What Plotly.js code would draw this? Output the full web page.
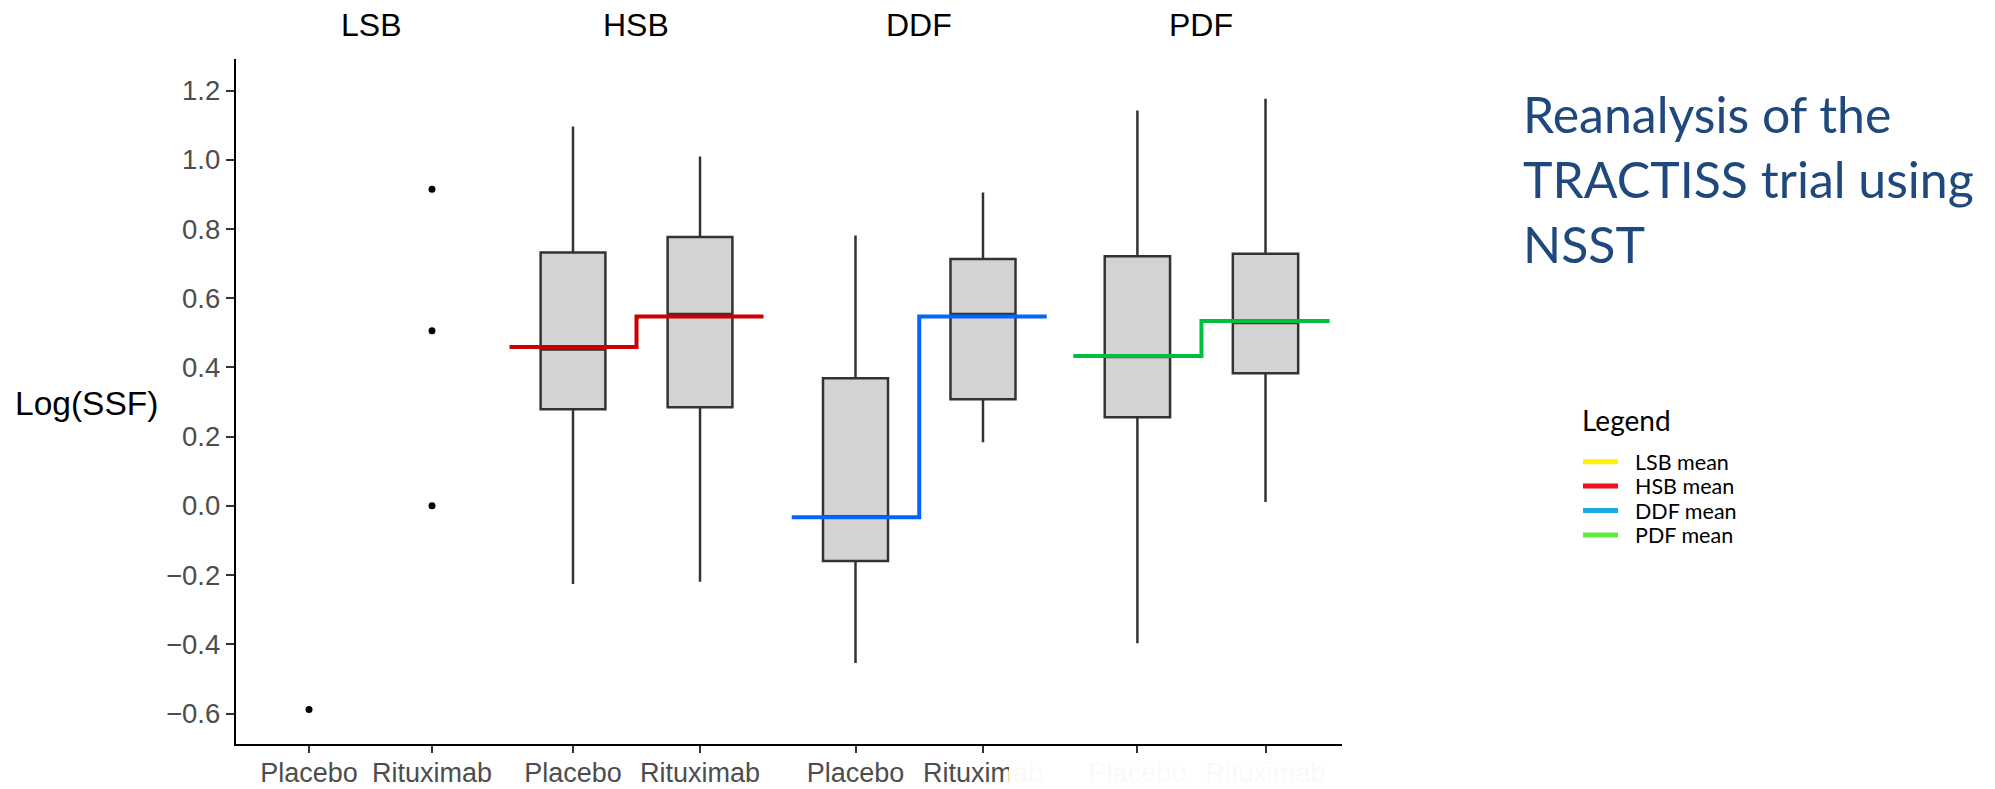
<!DOCTYPE html>
<html>
<head>
<meta charset="utf-8">
<script src="https://cdn.plot.ly/plotly-3.0.1.min.js"></script>
<style>
html,body{margin:0;padding:0;background:#fff;}
#chart{width:1995px;height:789px;}
</style>
</head>
<body>
<div id="chart"></div>
<script>
// ---------- data ----------
const groups = ['LSB', 'HSB', 'DDF', 'PDF'];
const arms = ['Placebo', 'Rituximab'];

// LSB: individual observations only
const lsbPlacebo = [-0.588];
const lsbRituximab = [0.915, 0.506, 0.0];

// Box statistics, [Placebo, Rituximab]
const hsbLower = [-0.226, -0.219];
const hsbQ1 = [0.279, 0.285];
const hsbMedian = [0.452, 0.554];
const hsbQ3 = [0.732, 0.777];
const hsbUpper = [1.096, 1.009];
const hsbMean = [0.459, 0.547];

const ddfLower = [-0.454, 0.184];
const ddfQ1 = [-0.159, 0.308];
const ddfMedian = [-0.030, 0.554];
const ddfQ3 = [0.369, 0.713];
const ddfUpper = [0.781, 0.905];
const ddfMean = [-0.033, 0.547];

const pdfLower = [-0.397, 0.011];
const pdfQ1 = [0.256, 0.383];
const pdfMedian = [0.430, 0.528];
const pdfQ3 = [0.721, 0.728];
const pdfUpper = [1.142, 1.176];
const pdfMean = [0.433, 0.534];

const yTicks = [-0.6, -0.4, -0.2, 0.0, 0.2, 0.4, 0.6, 0.8, 1.0, 1.2];
const legendLabels = ['LSB mean', 'HSB mean', 'DDF mean', 'PDF mean'];
const legendColors = ['#fff200', '#f0101e', '#1ea8e6', '#62eb3c'];
const meanColors = {HSB: '#cc0000', DDF: '#0066ff', PDF: '#00bf3f'};
const titleLines = ['Reanalysis of the', 'TRACTISS trial using', 'NSST'];

// ---------- styling / layout constants ----------
const FONT = 'Liberation Sans, Arial, Helvetica, sans-serif';
const SIDEFONT = 'Lato, Carlito, Calibri, sans-serif';
const armIdx = arms.map((a, i) => i);
const boxWidth = 0.51;
const half = 0.5;

const traces = [];

// LSB points
traces.push({
  type: 'scatter', mode: 'markers', xaxis: 'x', yaxis: 'y',
  x: lsbPlacebo.map(() => armIdx[0]).concat(lsbRituximab.map(() => armIdx[1])),
  y: lsbPlacebo.concat(lsbRituximab),
  marker: {color: '#000000', size: 7},
  showlegend: false, hoverinfo: 'y'
});

const boxGroups = [
  {name: 'HSB', ax: 'x2', lo: hsbLower, q1: hsbQ1, md: hsbMedian, q3: hsbQ3, up: hsbUpper, mean: hsbMean},
  {name: 'DDF', ax: 'x3', lo: ddfLower, q1: ddfQ1, md: ddfMedian, q3: ddfQ3, up: ddfUpper, mean: ddfMean},
  {name: 'PDF', ax: 'x4', lo: pdfLower, q1: pdfQ1, md: pdfMedian, q3: pdfQ3, up: pdfUpper, mean: pdfMean}
];

boxGroups.forEach(g => {
  traces.push({
    type: 'box', xaxis: g.ax, yaxis: 'y', name: g.name,
    x: armIdx,
    q1: g.q1, median: g.md, q3: g.q3,
    lowerfence: g.lo, upperfence: g.up,
    width: boxWidth, whiskerwidth: 0, boxpoints: false,
    fillcolor: '#d3d3d3',
    line: {color: '#333333', width: 2.5},
    showlegend: false
  });
  traces.push({
    type: 'scatter', mode: 'lines', xaxis: g.ax, yaxis: 'y',
    x: [armIdx[0] - half, armIdx[0], armIdx[1], armIdx[1] + half],
    y: [g.mean[0], g.mean[0], g.mean[1], g.mean[1]],
    line: {color: meanColors[g.name], width: 4, shape: 'hvh'},
    showlegend: false, hoverinfo: 'y'
  });
});

// ---------- layout ----------
const W = 1995, H = 789;
const L = 236, R = 653, T = 59, B = 45;
const pw = W - L - R, ph = H - T - B;
const px = v => (v - L) / pw;          // pixel x -> paper
const py = v => (H - B - v) / ph;      // pixel y -> paper

function xax(d0, d1, r0, r1) {
  return {
    domain: [px(d0), px(d1)], range: [r0, r1], anchor: 'y',
    tickmode: 'array', tickvals: armIdx, ticktext: arms,
    showline: true, linecolor: '#000000', linewidth: 2.2,
    ticks: 'outside', ticklen: 7, tickwidth: 2, tickcolor: '#333333',
    ticklabelstandoff: -4,
    tickfont: {family: FONT, size: 27, color: '#4d4d4d'},
    showgrid: false, zeroline: false, fixedrange: true
  };
}

const annotations = [];
const panelCenters = [370.5, 636, 918.6, 1201];
groups.forEach((g, i) => annotations.push({
  xref: 'paper', yref: 'paper', x: px(panelCenters[i]), y: py(25),
  xanchor: 'center', yanchor: 'middle', showarrow: false,
  text: g, font: {family: FONT, size: 32, color: '#000000'}
}));
annotations.push({
  xref: 'paper', yref: 'paper', x: px(86), y: py(404),
  xanchor: 'center', yanchor: 'middle', showarrow: false,
  text: 'Log(SSF)', font: {family: FONT, size: 33.5, color: '#000000'}
});
annotations.push({
  xref: 'paper', yref: 'paper', x: px(1521), y: py(179),
  xanchor: 'left', yanchor: 'middle', align: 'left', showarrow: false,
  text: titleLines.join('<br>'), font: {family: SIDEFONT, size: 50, color: '#1f497d'}
});
annotations.push({
  xref: 'paper', yref: 'paper', x: px(1580), y: py(420),
  xanchor: 'left', yanchor: 'middle', showarrow: false,
  text: 'Legend', font: {family: SIDEFONT, size: 28, color: '#000000'}
});

const shapes = [];
const legTop = 461.7, legStep = 24.4;
legendLabels.forEach((lab, i) => {
  const yc = legTop + i * legStep;
  shapes.push({
    type: 'line', xref: 'paper', yref: 'paper', layer: 'above',
    x0: px(1583), x1: px(1618), y0: py(yc), y1: py(yc),
    line: {color: legendColors[i], width: 5}
  });
  annotations.push({
    xref: 'paper', yref: 'paper', x: px(1633), y: py(yc),
    xanchor: 'left', yanchor: 'middle', showarrow: false,
    text: lab, font: {family: SIDEFONT, size: 21.5, color: '#000000'}
  });
});

// washed-out area over the last tick labels (as in the source image)
shapes.push({
  type: 'rect', xref: 'paper', yref: 'paper', layer: 'above',
  x0: px(1009), x1: px(1360), y0: py(789), y1: py(754),
  fillcolor: '#ffffff', opacity: 0.97, line: {width: 0}
});

const layout = {
  width: W, height: H,
  margin: {l: L, r: R, t: T, b: B, pad: 0},
  paper_bgcolor: '#ffffff', plot_bgcolor: '#ffffff',
  showlegend: false,
  font: {family: FONT},
  xaxis: xax(236, 506, -0.5935, 1.6016),
  xaxis2: xax(506, 777.5, -0.5276, 1.610),
  xaxis3: xax(777.5, 1060, -0.6118, 1.604),
  xaxis4: xax(1060, 1342, -0.604, 1.597),
  yaxis: {
    range: [-0.688, 1.291], anchor: 'x',
    tickmode: 'array', tickvals: yTicks, tickformat: '.1f',
    showline: true, linecolor: '#000000', linewidth: 2.2,
    ticks: 'outside', ticklen: 8, tickwidth: 2, tickcolor: '#333333',
    tickfont: {family: FONT, size: 27.5, color: '#4d4d4d'},
    showgrid: false, zeroline: false, fixedrange: true
  },
  annotations: annotations,
  shapes: shapes
};

Plotly.newPlot('chart', traces, layout, {displayModeBar: false, staticPlot: true});
</script>
</body>
</html>
